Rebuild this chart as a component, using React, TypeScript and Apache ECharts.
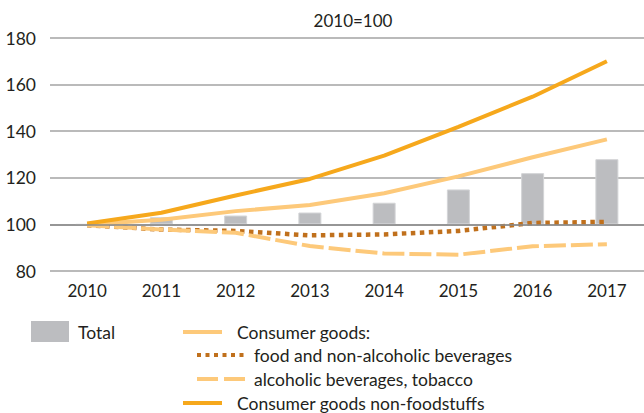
import React, { useEffect, useRef } from "react";
import * as echarts from "echarts";

const years = ["2010", "2011", "2012", "2013", "2014", "2015", "2016", "2017"];
const total = [100, 103.1, 103.8, 105.1, 109.3, 115, 122, 128];
const consumerGoods = [100, 102, 105.7, 108.3, 113.4, 120.6, 128.8, 136.5];
const foodBeverages = [99.6, 97.8, 97.2, 95.3, 95.7, 97.2, 100.6, 101.1];
const alcoholTobacco = [99.6, 97.8, 96.4, 90.7, 87.5, 87, 90.6, 91.5];
const nonFood = [100.4, 105, 112.4, 119.5, 129.5, 141.9, 154.8, 170];
const yTicks = [80, 100, 120, 140, 160, 180];

const FONT = "Lato, 'Noto Sans', sans-serif";
const TXT = "#231f20";
const LIGHT = "#fdc97a";
const ORANGE = "#f6a81c";
const BROWN = "#c0701c";
const GREY = "#bcbdc0";

export default function App() {
  const ref = useRef<HTMLDivElement>(null);
  useEffect(() => {
    if (!ref.current) return;
    const chart = echarts.init(ref.current, null, { renderer: "svg" });
    const base = 100;
    const legendText = (x: number, y: number, t: string) => ({
      type: "text",
      x,
      y,
      style: { text: t, fill: TXT, font: `17.5px ${FONT}`, textVerticalAlign: "middle", verticalAlign: "middle" },
    });
    chart.setOption({
      animation: false,
      title: {
        text: "2010=100",
        left: 348,
        top: 7,
        textAlign: "center",
        textStyle: { fontFamily: FONT, fontSize: 17, fontWeight: "normal", color: TXT },
      },
      grid: { left: 50, right: 0, top: 38, bottom: 142, containLabel: false },
      xAxis: {
        type: "category",
        data: years,
        axisLine: { show: false },
        axisTick: { show: false },
        axisLabel: { margin: 11, fontFamily: FONT, fontSize: 17, color: TXT },
      },
      yAxis: {
        type: "value",
        min: yTicks[0],
        max: yTicks[yTicks.length - 1],
        interval: 20,
        axisLine: { show: false },
        axisTick: { show: false },
        axisLabel: { margin: 14, fontFamily: FONT, fontSize: 17.5, color: TXT },
        splitLine: { lineStyle: { color: "#a3a3a3", width: 1.5 } },
      },
      series: [
        {
          type: "bar",
          stack: "t",
          data: years.map(() => base),
          barWidth: 23,
          itemStyle: { color: "transparent" },
          silent: true,
        },
        {
          name: "Total",
          type: "bar",
          stack: "t",
          data: total.map((v) => +(v - base).toFixed(2)),
          barWidth: 23,
          itemStyle: { color: GREY, borderColor: "#d3d4d6", borderWidth: 1 },
          markLine: {
            silent: true,
            symbol: "none",
            label: { show: false },
            lineStyle: { color: "#8a8a8a", width: 1.5, type: "solid" },
            data: [{ yAxis: base }],
          },
        },
        {
          name: "food and non-alcoholic beverages",
          type: "line",
          data: foodBeverages,
          symbol: "none",
          lineStyle: { color: BROWN, width: 4.5, type: [4.5, 4.5], cap: "butt" },
        },
        {
          name: "alcoholic beverages, tobacco",
          type: "line",
          data: alcoholTobacco,
          symbol: "none",
          lineStyle: { color: LIGHT, width: 4, type: [22, 5], cap: "butt" },
        },
        {
          name: "Consumer goods",
          type: "line",
          data: consumerGoods,
          symbol: "none",
          lineStyle: { color: LIGHT, width: 4 },
        },
        {
          name: "Consumer goods non-foodstuffs",
          type: "line",
          data: nonFood,
          symbol: "none",
          lineStyle: { color: ORANGE, width: 4 },
        },
      ],
      graphic: [
        { type: "rect", shape: { x: 31, y: 321, width: 38, height: 21 }, style: { fill: GREY } },
        legendText(78, 332, "Total"),
        { type: "line", shape: { x1: 183, y1: 332, x2: 222, y2: 332 }, style: { stroke: LIGHT, lineWidth: 4 } },
        legendText(237, 332, "Consumer goods:"),
        { type: "line", shape: { x1: 197, y1: 355, x2: 246, y2: 355 }, style: { stroke: BROWN, lineWidth: 4, lineDash: [4, 4.5] } },
        legendText(254, 355, "food and non-alcoholic beverages"),
        { type: "line", shape: { x1: 197, y1: 379, x2: 246, y2: 379 }, style: { stroke: LIGHT, lineWidth: 4, lineDash: [21, 6] } },
        legendText(254, 379, "alcoholic beverages, tobacco"),
        { type: "line", shape: { x1: 183, y1: 403, x2: 222, y2: 403 }, style: { stroke: ORANGE, lineWidth: 4 } },
        legendText(237, 403, "Consumer goods non-foodstuffs"),
      ],
    });
    return () => chart.dispose();
  }, []);
  return (
    <div
      ref={ref}
      style={{ position: "fixed", left: 0, top: 0, width: 644, height: 413, background: "#fff" }}
    />
  );
}
